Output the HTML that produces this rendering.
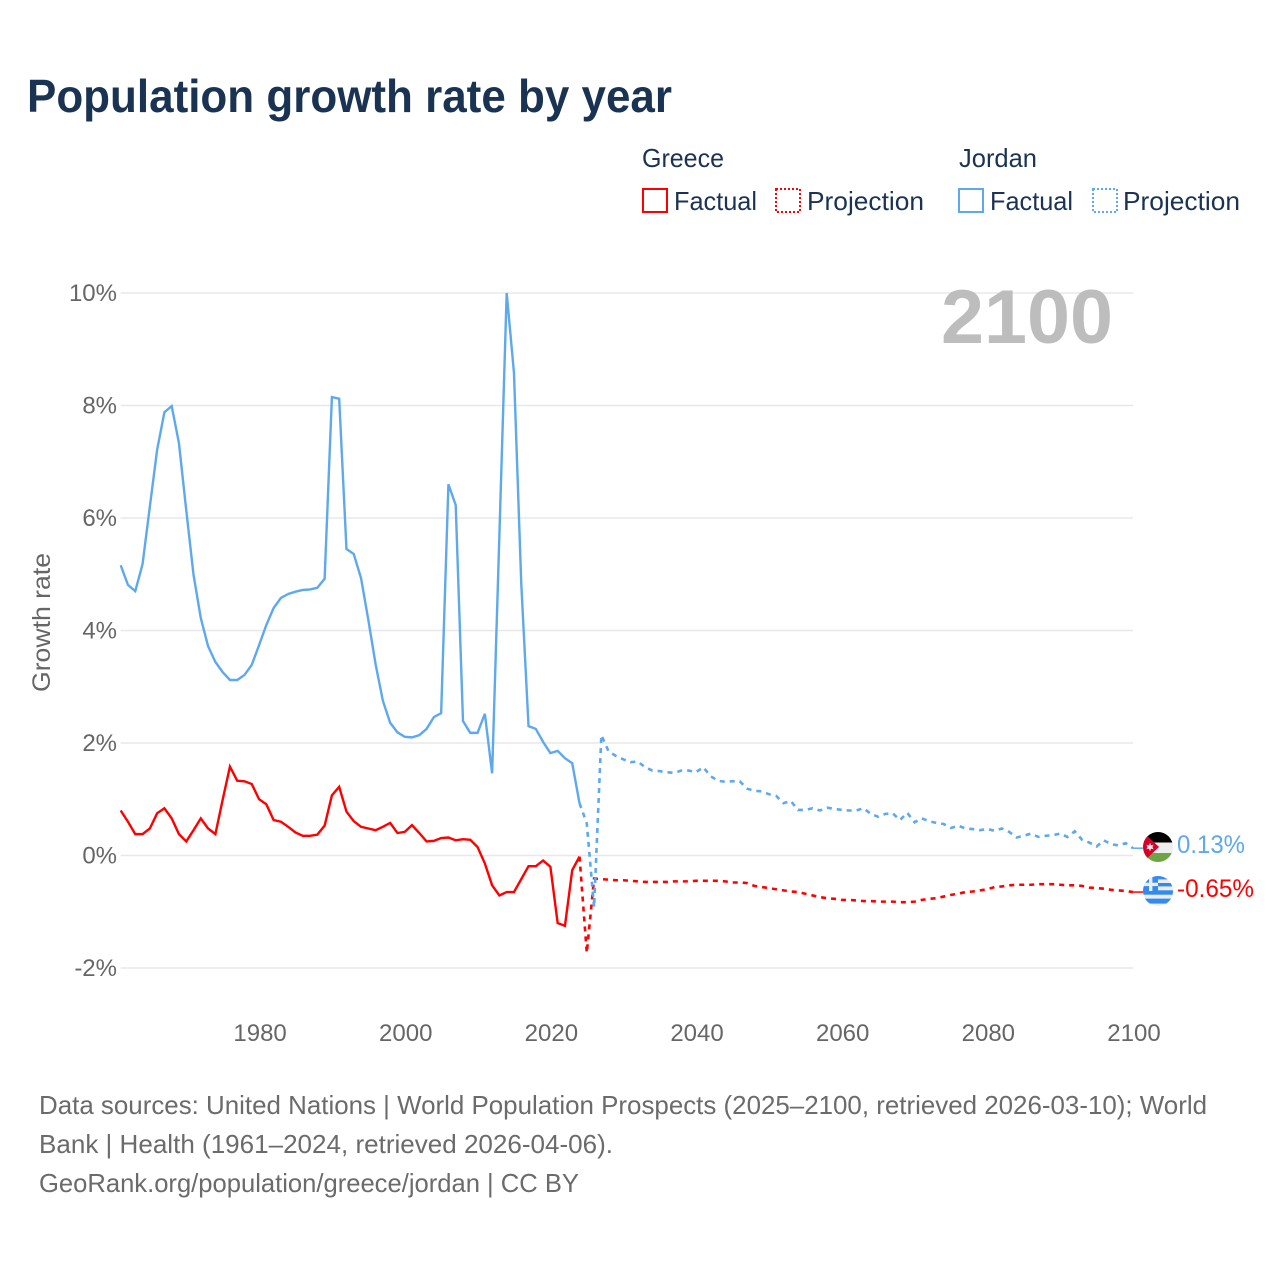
<!DOCTYPE html>
<html lang="en">
<head>
<meta charset="utf-8">
<title>Population growth rate by year</title>
<style>
html,body{margin:0;padding:0;background:#fff;}
svg{display:block;font-family:"Liberation Sans",sans-serif;}
</style>
</head>
<body>
<svg id="chart" width="1280" height="1280" viewBox="0 0 1280 1280" xmlns="http://www.w3.org/2000/svg">
  <defs>
    <clipPath id="flag-clip-jordan"><circle cx="1158" cy="847" r="15"/></clipPath>
    <clipPath id="flag-clip-greece"><circle cx="1158" cy="891" r="15"/></clipPath>
  </defs>
  <rect x="0" y="0" width="1280" height="1280" fill="#ffffff"/>
  <text x="27" y="112" font-size="46" font-weight="700" fill="#1a3353" textLength="645" lengthAdjust="spacingAndGlyphs">Population growth rate by year</text>

  <g font-size="26" fill="#1a3353">
    <text x="642" y="167" textLength="82" lengthAdjust="spacingAndGlyphs">Greece</text>
    <text x="959" y="167" textLength="78" lengthAdjust="spacingAndGlyphs">Jordan</text>
    <g>
      <rect x="643" y="189" width="24" height="23" fill="none" stroke="#ff0000" stroke-width="2"/>
      <text x="674" y="210" textLength="83" lengthAdjust="spacingAndGlyphs">Factual</text>
    </g>
    <g>
      <rect x="776" y="189" width="24" height="23" fill="none" stroke="#ff0000" stroke-width="2" stroke-dasharray="2 2"/>
      <text x="807" y="210" textLength="117" lengthAdjust="spacingAndGlyphs">Projection</text>
    </g>
    <g>
      <rect x="959" y="189" width="24" height="23" fill="none" stroke="#5ea8ee" stroke-width="2"/>
      <text x="990" y="210" textLength="83" lengthAdjust="spacingAndGlyphs">Factual</text>
    </g>
    <g>
      <rect x="1093" y="189" width="24" height="23" fill="none" stroke="#5ea8ee" stroke-width="2" stroke-dasharray="2 2"/>
      <text x="1123" y="210" textLength="117" lengthAdjust="spacingAndGlyphs">Projection</text>
    </g>
  </g>

  <g id="grid"></g>
  <g id="y-labels" font-size="24" fill="#666666" text-anchor="end"></g>
  <g id="x-labels" font-size="24" fill="#666666" text-anchor="middle"></g>
  <text transform="translate(50 622.5) rotate(-90)" font-size="25" fill="#666666" text-anchor="middle" textLength="139" lengthAdjust="spacingAndGlyphs">Growth rate</text>
  <text id="year-label" x="941" y="343" font-size="76" font-weight="700" fill="#bdbdbd" textLength="172" lengthAdjust="spacingAndGlyphs"></text>

  <g id="series"></g>

  <g clip-path="url(#flag-clip-jordan)">
    <rect x="1143" y="832" width="30" height="10.5" fill="#000000"/>
    <rect x="1143" y="842.5" width="30" height="10.5" fill="#eeeeee"/>
    <rect x="1143" y="853" width="30" height="10" fill="#6da544"/>
    <polygon points="1143,832 1159,847 1143,862" fill="#d80027"/>
    <polygon points="1150,842.8 1151,845.4 1153.6,844.8 1152.4,847 1153.6,849.2 1151,848.6 1150,851.2 1149,848.6 1146.4,849.2 1147.6,847 1146.4,844.8 1149,845.4" fill="#eeeeee"/>
  </g>
  <g clip-path="url(#flag-clip-greece)">
    <rect x="1143" y="876" width="30" height="30" fill="#eeeeee"/>
    <rect x="1158" y="876" width="15" height="3.4" fill="#338af3"/>
    <rect x="1158" y="883" width="15" height="3.4" fill="#338af3"/>
    <rect x="1143" y="890.3" width="30" height="4.4" fill="#338af3"/>
    <rect x="1143" y="898.6" width="30" height="5" fill="#338af3"/>
    <rect x="1143" y="876" width="15" height="15" fill="#338af3"/>
    <rect x="1149" y="876" width="3.4" height="15" fill="#eeeeee"/>
    <rect x="1143" y="882.7" width="15" height="3.4" fill="#eeeeee"/>
  </g>
  <text id="end-label-jordan" x="1177" y="853" font-size="25" fill="#5ea8ee" textLength="68" lengthAdjust="spacingAndGlyphs"></text>
  <text id="end-label-greece" x="1177" y="897" font-size="25" fill="#ff0000" textLength="77" lengthAdjust="spacingAndGlyphs"></text>

  <g font-size="26" fill="#6b6b6b">
    <text x="39" y="1114" textLength="1168" lengthAdjust="spacingAndGlyphs">Data sources: United Nations | World Population Prospects (2025–2100, retrieved 2026-03-10); World</text>
    <text x="39" y="1153" textLength="574" lengthAdjust="spacingAndGlyphs">Bank | Health (1961–2024, retrieved 2026-04-06).</text>
    <text x="39" y="1192" textLength="540" lengthAdjust="spacingAndGlyphs">GeoRank.org/population/greece/jordan | CC BY</text>
  </g>
</svg>
<script>
const factualStartYear = 1961;
const projectionStartYear = 2024;
const xTickYears = [1980, 2000, 2020, 2040, 2060, 2080, 2100];
const yTickValues = [10, 8, 6, 4, 2, 0, -2];

const greeceFactual = [
  0.80,0.60,0.38,0.38,0.48,0.75,0.84,0.66,0.38,0.25,
  0.45,0.66,0.48,0.38,0.99,1.58,1.33,1.32,1.27,1.00,
  0.91,0.63,0.60,0.51,0.41,0.35,0.35,0.37,0.53,1.07,
  1.22,0.78,0.61,0.51,0.48,0.45,0.51,0.58,0.40,0.42,
  0.54,0.40,0.25,0.26,0.31,0.32,0.27,0.29,0.28,0.15,
  -0.14,-0.53,-0.71,-0.65,-0.65,-0.42,-0.19,-0.19,-0.09,-0.20,
  -1.20,-1.25,-0.26,-0.02
];
const greeceProjection = [
  -0.02,-1.73,-0.41,-0.42,-0.43,-0.44,-0.44,
  -0.45,-0.46,-0.47,-0.47,-0.47,-0.47,-0.46,-0.46,-0.46,-0.45,
  -0.45,-0.45,-0.45,-0.46,-0.48,-0.48,-0.49,-0.54,-0.56,-0.58,
  -0.60,-0.62,-0.64,-0.65,-0.68,-0.71,-0.74,-0.76,-0.77,-0.79,
  -0.79,-0.80,-0.81,-0.81,-0.82,-0.82,-0.82,-0.83,-0.83,-0.82,
  -0.79,-0.77,-0.76,-0.73,-0.70,-0.68,-0.65,-0.64,-0.62,-0.60,
  -0.56,-0.55,-0.53,-0.52,-0.52,-0.52,-0.51,-0.51,-0.51,-0.52,
  -0.53,-0.53,-0.54,-0.57,-0.58,-0.59,-0.61,-0.62,-0.63,-0.65
];
const jordanFactual = [
  5.16,4.81,4.70,5.18,6.20,7.21,7.88,7.99,7.33,6.14,
  4.99,4.22,3.72,3.44,3.26,3.12,3.12,3.21,3.39,3.74,
  4.10,4.40,4.58,4.65,4.69,4.72,4.73,4.76,4.92,8.15,
  8.12,5.45,5.36,4.93,4.19,3.40,2.75,2.36,2.19,2.11,
  2.10,2.14,2.25,2.46,2.53,6.60,6.23,2.39,2.18,2.18,
  2.52,1.46,5.70,10.00,8.58,4.84,2.30,2.25,2.02,1.82,
  1.86,1.73,1.64,0.93
];
const jordanProjection = [
  0.93,0.57,-0.92,2.14,1.85,1.77,1.71,
  1.66,1.67,1.57,1.51,1.50,1.48,1.47,1.51,1.51,1.48,
  1.57,1.41,1.33,1.31,1.32,1.32,1.19,1.15,1.14,1.09,
  1.06,0.93,0.97,0.81,0.81,0.84,0.80,0.85,0.83,0.81,
  0.80,0.80,0.84,0.74,0.69,0.74,0.75,0.63,0.76,0.59,
  0.66,0.61,0.58,0.56,0.49,0.53,0.48,0.47,0.45,0.47,
  0.44,0.48,0.42,0.32,0.35,0.39,0.33,0.35,0.36,0.39,
  0.33,0.43,0.28,0.23,0.16,0.27,0.20,0.18,0.22,0.13
];

const SVG_NS = 'http://www.w3.org/2000/svg';
const plotLeft = 120.7;
const plotRight = 1133;
const xScale = (plotRight - plotLeft) / (2100 - factualStartYear);
const yScale = 56.25;
function xPos(year) { return plotLeft + (year - factualStartYear) * xScale; }
function yPos(value) { return 855.5 - value * yScale; }
function make(tag, attrs) {
  const el = document.createElementNS(SVG_NS, tag);
  Object.keys(attrs).forEach(function (k) { el.setAttribute(k, attrs[k]); });
  return el;
}

const gridGroup = document.getElementById('grid');
const yLabelGroup = document.getElementById('y-labels');
yTickValues.forEach(function (value) {
  const line = make('line', { x1: plotLeft, x2: plotRight, y1: yPos(value), y2: yPos(value), stroke: '#e8e8e8', 'stroke-width': 1.5 });
  
  
  gridGroup.appendChild(line);
  const label = make('text', { x: 117, y: yPos(value) + 8 });
  
  
  label.textContent = value + '%';
  yLabelGroup.appendChild(label);
});

const xLabelGroup = document.getElementById('x-labels');
xTickYears.forEach(function (year) {
  const label = make('text', { x: xPos(year) + 1, y: 1041 });
  
  
  label.textContent = String(year);
  xLabelGroup.appendChild(label);
});

function pathFrom(values, startYear) {
  return values.map(function (v, i) {
    return xPos(startYear + i).toFixed(2) + ',' + yPos(v).toFixed(2);
  }).join(' ');
}
const seriesGroup = document.getElementById('series');
function drawLine(values, startYear, color, dash, name) {
  const line = make('polyline', { points: pathFrom(values, startYear), fill: 'none', stroke: color, 'stroke-width': 2.4, 'stroke-linejoin': 'miter' });
  if (dash) { line.setAttribute('stroke-dasharray', dash); line.setAttribute('stroke-width', 2.6); }
  
  
  seriesGroup.appendChild(line);
}
function drawLeader(value, color, name) {
  const line = make('line', { x1: plotRight, x2: 1143, y1: yPos(value), y2: yPos(value), stroke: color, 'stroke-width': 1.5 });
  
  
  seriesGroup.appendChild(line);
}
const greeceColor = '#ff0000';
const jordanColor = '#5ea8ee';
drawLine(greeceFactual, factualStartYear, greeceColor, null, 'line-greece-factual');
drawLine(greeceProjection, projectionStartYear, greeceColor, '5 5', 'line-greece-projection');
drawLine(jordanFactual, factualStartYear, jordanColor, null, 'line-jordan-factual');
drawLine(jordanProjection, projectionStartYear, jordanColor, '5 5', 'line-jordan-projection');
const greeceLast = greeceProjection[greeceProjection.length - 1];
const jordanLast = jordanProjection[jordanProjection.length - 1];
drawLeader(greeceLast, greeceColor, 'leader-greece');
drawLeader(jordanLast, jordanColor, 'leader-jordan');

document.getElementById('end-label-greece').textContent = greeceLast.toFixed(2) + '%';
document.getElementById('end-label-jordan').textContent = jordanLast.toFixed(2) + '%';
document.getElementById('year-label').textContent = String(projectionStartYear + jordanProjection.length - 1);
</script>
</body>
</html>
